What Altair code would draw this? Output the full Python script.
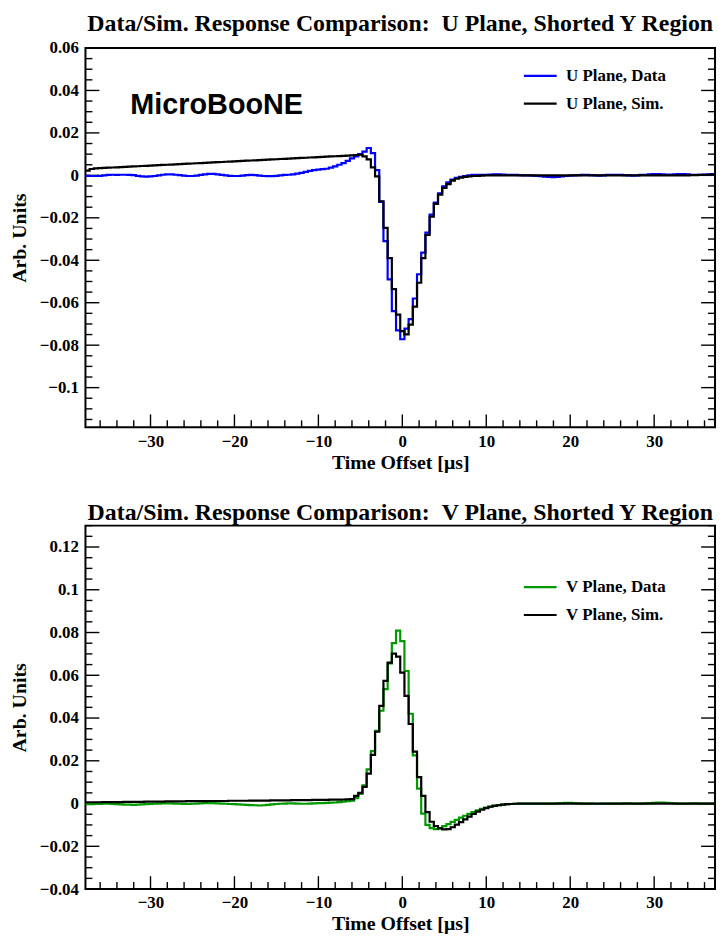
import altair as alt
import pandas as pd

# ---------------- data: 150 bins of 0.5 us, first bin lower edge at -37.75 us
BIN_LO = -37.75
BIN_W = 0.5

u_data = [
    -0.0002, -0.0003, -0.0003, -0.0002, 0.0000, 0.0002, 0.0003, 0.0002, 0.0003, 0.0003,
    0.0002, 0.0001, -0.0002, -0.0005, -0.0006, -0.0005, -0.0003, 0.0000, 0.0003, 0.0005,
    0.0005, 0.0003, 0.0001, -0.0001, -0.0003, -0.0003, -0.0001, 0.0002, 0.0005, 0.0007,
    0.0007, 0.0005, 0.0002, 0.0000, -0.0002, -0.0003, -0.0003, -0.0001, 0.0001, 0.0002,
    0.0001, -0.0001, -0.0003, -0.0004, -0.0004, -0.0002, 0.0000, 0.0002, 0.0003, 0.0005,
    0.0008, 0.0012, 0.0016, 0.0021, 0.0025, 0.0027, 0.0029, 0.0031, 0.0036, 0.0042,
    0.0050, 0.0058, 0.0068, 0.0080, 0.0089, 0.0100, 0.0112, 0.0129, 0.0105, 0.0025,
    -0.0125, -0.0310, -0.0490, -0.0640, -0.0730, -0.0772, -0.0722, -0.0677, -0.0580, -0.0466,
    -0.0364, -0.0270, -0.0185, -0.0128, -0.0085, -0.0052, -0.0033, -0.0020, -0.0012, -0.0007,
    -0.0003, 0.0000, 0.0002, 0.0003, 0.0003, 0.0003, 0.0004, 0.0005, 0.0005, 0.0004,
    0.0003, 0.0002, 0.0002, 0.0001, 0.0000, 0.0000, -0.0001, -0.0002, -0.0004, -0.0006,
    -0.0007, -0.0008, -0.0007, -0.0005, -0.0003, -0.0001, 0.0000, 0.0001, 0.0002, 0.0002,
    0.0001, 0.0000, -0.0001, 0.0000, 0.0002, 0.0003, 0.0003, 0.0002, 0.0001, 0.0000,
    -0.0001, 0.0000, 0.0002, 0.0003, 0.0005, 0.0006, 0.0006, 0.0005, 0.0004, 0.0004,
    0.0005, 0.0006, 0.0006, 0.0005, 0.0003, 0.0002, 0.0003, 0.0004, 0.0005, 0.0006,
]

u_sim = [
    0.0022, 0.0030, 0.0033, 0.0034, 0.0035, 0.0036, 0.0037, 0.0038, 0.0039, 0.0040,
    0.0041, 0.0042, 0.0043, 0.0044, 0.0045, 0.0046, 0.0047, 0.0048, 0.0049, 0.0050,
    0.0051, 0.0052, 0.0053, 0.0054, 0.0055, 0.0056, 0.0057, 0.0058, 0.0059, 0.0060,
    0.0061, 0.0062, 0.0063, 0.0064, 0.0065, 0.0066, 0.0067, 0.0068, 0.0069, 0.0070,
    0.0071, 0.0072, 0.0073, 0.0074, 0.0075, 0.0076, 0.0077, 0.0078, 0.0079, 0.0080,
    0.0081, 0.0082, 0.0083, 0.0084, 0.0085, 0.0086, 0.0087, 0.0088, 0.0089, 0.0090,
    0.0091, 0.0092, 0.0093, 0.0094, 0.0096, 0.0097, 0.0089, 0.0075, 0.0038, -0.0005,
    -0.0122, -0.0247, -0.0390, -0.0536, -0.0656, -0.0734, -0.0749, -0.0703, -0.0618, -0.0506,
    -0.0390, -0.0281, -0.0194, -0.0134, -0.0091, -0.0059, -0.0041, -0.0025, -0.0016, -0.0011,
    -0.0007, -0.0005, -0.0003, -0.0002, -0.0001, 0.0000, 0.0000, 0.0000, 0.0000, 0.0000,
    0.0000, 0.0000, 0.0000, 0.0000, 0.0000, 0.0000, 0.0000, 0.0000, 0.0000, 0.0000,
    0.0000, 0.0000, 0.0000, 0.0000, 0.0000, 0.0000, 0.0000, 0.0000, 0.0000, 0.0000,
    0.0000, 0.0000, 0.0000, 0.0000, 0.0000, 0.0000, 0.0000, 0.0000, 0.0000, 0.0000,
    0.0000, 0.0000, 0.0000, 0.0000, 0.0000, 0.0000, 0.0000, 0.0000, 0.0000, 0.0000,
    0.0000, 0.0000, 0.0000, 0.0000, 0.0001, 0.0001, 0.0002, 0.0002, 0.0003, 0.0005,
]

v_data = [
    -0.0003, -0.0003, -0.0002, -0.0002, -0.0001, -0.0001, -0.0002, -0.0003, -0.0004, -0.0005,
    -0.0005, -0.0006, -0.0005, -0.0004, -0.0003, -0.0002, -0.0001, 0.0000, 0.0001, 0.0001,
    0.0001, 0.0000, -0.0001, -0.0002, -0.0002, -0.0001, 0.0000, 0.0001, 0.0002, 0.0002,
    0.0002, 0.0001, 0.0000, -0.0001, -0.0002, -0.0003, -0.0004, -0.0005, -0.0006, -0.0007,
    -0.0008, -0.0009, -0.0008, -0.0006, -0.0004, -0.0002, -0.0001, 0.0000, 0.0001, 0.0001,
    0.0000, -0.0001, -0.0001, 0.0000, 0.0001, 0.0002, 0.0002, 0.0003, 0.0004, 0.0005,
    0.0007, 0.0009, 0.0011, 0.0013, 0.0025, 0.0045, 0.0085, 0.0160, 0.0245, 0.0340,
    0.0434, 0.0535, 0.0655, 0.0750, 0.0809, 0.0760, 0.0620, 0.0420, 0.0225, 0.0070,
    -0.0047, -0.0100, -0.0115, -0.0120, -0.0115, -0.0106, -0.0096, -0.0086, -0.0076, -0.0066,
    -0.0057, -0.0048, -0.0040, -0.0032, -0.0025, -0.0019, -0.0014, -0.0010, -0.0007, -0.0005,
    -0.0003, -0.0002, -0.0001, 0.0000, 0.0000, 0.0000, 0.0000, 0.0000, 0.0000, 0.0000,
    0.0000, 0.0000, 0.0001, 0.0002, 0.0003, 0.0003, 0.0002, 0.0001, 0.0000, 0.0000,
    0.0000, -0.0001, -0.0001, 0.0000, 0.0000, 0.0000, 0.0000, 0.0000, 0.0001, 0.0001,
    0.0000, 0.0000, 0.0000, 0.0001, 0.0002, 0.0003, 0.0004, 0.0004, 0.0003, 0.0002,
    0.0001, 0.0000, 0.0000, 0.0000, 0.0001, 0.0001, 0.0000, 0.0000, 0.0000, 0.0000,
]

v_sim = [
    0.0006, 0.0006, 0.0006, 0.0006, 0.0007, 0.0007, 0.0007, 0.0007, 0.0007, 0.0008,
    0.0008, 0.0008, 0.0008, 0.0008, 0.0009, 0.0009, 0.0009, 0.0009, 0.0009, 0.0010,
    0.0010, 0.0010, 0.0010, 0.0010, 0.0011, 0.0011, 0.0011, 0.0011, 0.0011, 0.0012,
    0.0012, 0.0012, 0.0012, 0.0012, 0.0013, 0.0013, 0.0013, 0.0013, 0.0013, 0.0014,
    0.0014, 0.0014, 0.0014, 0.0014, 0.0015, 0.0015, 0.0015, 0.0015, 0.0015, 0.0016,
    0.0016, 0.0016, 0.0016, 0.0016, 0.0017, 0.0017, 0.0017, 0.0017, 0.0018, 0.0018,
    0.0018, 0.0019, 0.0020, 0.0021, 0.0036, 0.0050, 0.0078, 0.0140, 0.0228, 0.0336,
    0.0457, 0.0574, 0.0659, 0.0701, 0.0687, 0.0612, 0.0504, 0.0372, 0.0243, 0.0124,
    0.0036, -0.0040, -0.0085, -0.0105, -0.0116, -0.0121, -0.0120, -0.0111, -0.0099, -0.0087,
    -0.0074, -0.0061, -0.0049, -0.0038, -0.0029, -0.0021, -0.0015, -0.0011, -0.0008, -0.0005,
    -0.0003, -0.0002, -0.0001, 0.0000, 0.0000, 0.0000, 0.0000, 0.0000, 0.0000, 0.0000,
    0.0000, 0.0000, 0.0000, 0.0000, 0.0000, 0.0000, 0.0000, 0.0000, 0.0000, 0.0000,
    0.0000, 0.0000, 0.0000, 0.0000, 0.0000, 0.0000, 0.0000, 0.0000, 0.0000, 0.0000,
    0.0000, 0.0000, 0.0000, 0.0000, 0.0000, 0.0000, 0.0000, 0.0000, 0.0000, 0.0000,
    0.0000, 0.0000, 0.0000, 0.0000, 0.0000, 0.0000, 0.0000, 0.0000, 0.0000, 0.0000,
]

top_names = ["U Plane, Data", "U Plane, Sim."]
bot_names = ["V Plane, Data", "V Plane, Sim."]
top_colors = ["#0000ff", "#000000"]
bot_colors = ["#009900", "#000000"]

NBSP = "\u00a0"
top_title = "Data/Sim. Response Comparison:" + NBSP + NBSP + "U Plane, Shorted Y Region"
bot_title = "Data/Sim. Response Comparison:" + NBSP + NBSP + "V Plane, Shorted Y Region"

x_major = [-30, -20, -10, 0, 10, 20, 30]
x_minor = [-36, -34, -32, -28, -26, -24, -22, -18, -16, -14, -12, -8, -6, -4, -2,
           2, 4, 6, 8, 12, 14, 16, 18, 22, 24, 26, 28, 32, 34, 36]
top_y_major = [-0.1, -0.08, -0.06, -0.04, -0.02, 0, 0.02, 0.04, 0.06]
bot_y_major = [-0.04, -0.02, 0, 0.02, 0.04, 0.06, 0.08, 0.1, 0.12]
top_y_domain = [-0.1187, 0.06]
bot_y_domain = [-0.04, 0.13]

label_text = ["MicroBooNE"]
label_t = [-32.4]
label_v = [0.033]

FONT = "Liberation Serif"
W = 634
H_TOP = 382
H_BOT = 366
X_DOMAIN = [BIN_LO, BIN_LO + BIN_W * len(u_data)]


def minor_ticks(lo, hi, major):
    out = []
    k = int(round(lo / 0.005))
    while k * 0.005 <= hi + 1e-9:
        v = round(k * 0.005, 4)
        if v >= lo - 1e-9 and all(abs(v - m) > 1e-6 for m in major):
            out.append(v)
        k += 1
    return out


def step_frame(values, name):
    n = len(values)
    return pd.DataFrame({
        "t": [BIN_LO + BIN_W * i for i in range(n + 1)],
        "v": list(values) + [values[-1]],
        "series": [name] * (n + 1),
    })


def panel(title, title_offset, names, colors, data_vals, sim_vals,
          y_domain, y_major, height, legend_y, with_label):
    xs = alt.Scale(domain=X_DOMAIN, nice=False, zero=False)
    ys = alt.Scale(domain=y_domain, nice=False, zero=False)
    y_minor = minor_ticks(y_domain[0], y_domain[1], y_major)

    color = alt.Color(
        "series:N",
        scale=alt.Scale(domain=names, range=colors),
        legend=alt.Legend(
            title=None, orient="none", legendX=440, legendY=legend_y,
            symbolType="stroke", symbolSize=1089, symbolStrokeWidth=2.2,
            labelFont=FONT, labelFontWeight="bold", labelFontSize=17,
            labelColor="black", labelOffset=8, rowPadding=2, padding=0,
        ),
    )
    x_axis = alt.Axis(values=x_major, format="d", title="Time Offset [μs]",
                      labelPadding=6, titlePadding=3)
    y_axis = alt.Axis(values=y_major, format="~g", title="Arb. Units",
                      labelPadding=7, titlePadding=10)
    X = lambda f: alt.X(f, scale=xs, axis=x_axis)
    Y = lambda f: alt.Y(f, scale=ys, axis=y_axis)

    layers = []

    def yticks(vals, length, right):
        x1 = W - length if right else 0
        x2 = W if right else length
        return alt.Chart(pd.DataFrame({"v": vals})).mark_rule(
            color="black", strokeWidth=1.4
        ).encode(y=Y("v:Q"), x=alt.value(x1), x2=alt.value(x2))

    def xticks(vals, length):
        return alt.Chart(pd.DataFrame({"t": vals})).mark_rule(
            color="black", strokeWidth=1.4
        ).encode(x=X("t:Q"), y=alt.value(height), y2=alt.value(height - length))

    layers += [
        yticks(y_major, 14, False), yticks(y_minor, 7, False),
        yticks(y_major, 14, True), yticks(y_minor, 7, True),
        xticks(x_major, 13), xticks(x_minor, 7),
    ]

    for vals, name in ((data_vals, names[0]), (sim_vals, names[1])):
        layers.append(
            alt.Chart(step_frame(vals, name))
            .mark_line(interpolate="step-after", strokeWidth=2.2, clip=True)
            .encode(x=X("t:Q"), y=Y("v:Q"), color=color)
        )

    if with_label:
        layers.append(
            alt.Chart(pd.DataFrame({"t": label_t, "v": label_v, "txt": label_text}))
            .mark_text(font="Liberation Sans", fontWeight="bold", fontSize=29,
                       align="left", baseline="middle", color="black")
            .encode(x=X("t:Q"), y=Y("v:Q"), text="txt:N")
        )

    return alt.layer(*layers).properties(
        width=W, height=height,
        title=alt.TitleParams(text=title, offset=title_offset),
    )


top = panel(top_title, 3, top_names, top_colors, u_data, u_sim,
            top_y_domain, top_y_major, H_TOP, 10, True)
bottom = panel(bot_title, 0, bot_names, bot_colors, v_data, v_sim,
               bot_y_domain, bot_y_major, H_BOT, 44, False)

chart = (
    alt.vconcat(top, bottom, spacing=27)
    .resolve_scale(color="independent", x="independent", y="independent")
    .resolve_legend(color="independent")
    .properties(padding={"left": 0, "top": 0, "right": 0, "bottom": 0})
    .configure_view(stroke="black", strokeWidth=2)
    .configure_axis(
        labelFont=FONT, labelFontWeight="bold", labelFontSize=17, labelColor="black",
        titleFont=FONT, titleFontWeight="bold", titleFontSize=20, titleColor="black",
        grid=False, ticks=False, domain=False,
    )
    .configure_title(font=FONT, fontWeight="bold", fontSize=24, color="black",
                     anchor="middle", frame="group")
)

chart.save("out.html", embed_options={"renderer": "svg", "actions": False})
